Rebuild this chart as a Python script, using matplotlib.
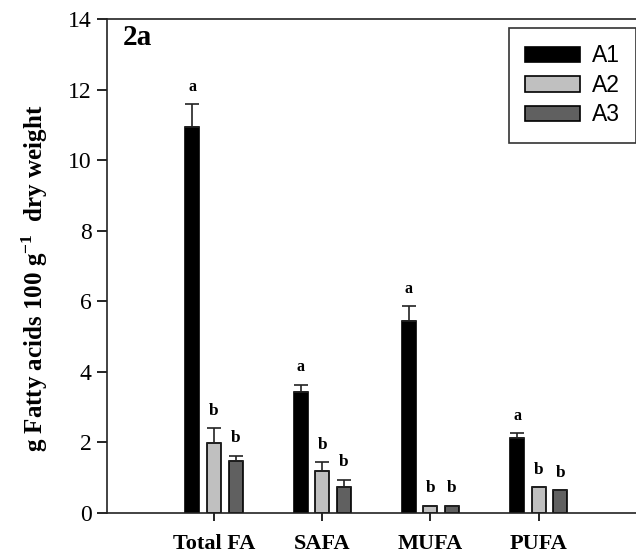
import numpy as np
import matplotlib
matplotlib.use('Agg')
import matplotlib.pyplot as plt

plt.rcParams['font.family'] = ['Liberation Serif', 'DejaVu Serif']
plt.rcParams['mathtext.fontset'] = 'custom'
plt.rcParams['mathtext.rm'] = 'Liberation Serif:bold'
plt.rcParams['mathtext.bf'] = 'Liberation Serif:bold'

groups = ['Total FA', 'SAFA', 'MUFA', 'PUFA']
series = ['A1', 'A2', 'A3']
a1 = [10.95, 3.43, 5.45, 2.13]
a2 = [1.97, 1.18, 0.19, 0.72]
a3 = [1.47, 0.74, 0.20, 0.63]
a1_err = [0.63, 0.19, 0.40, 0.12]
a2_err = [0.42, 0.25, 0.0, 0.0]
a3_err = [0.15, 0.19, 0.0, 0.0]
letters_a1 = ['a', 'a', 'a', 'a']
letters_a2 = ['b', 'b', 'b', 'b']
letters_a3 = ['b', 'b', 'b', 'b']
colors = ['#000000', '#c0c0c0', '#606060']

fig = plt.figure(figsize=(6.36, 5.58), dpi=100)
ax = fig.add_axes([107 / 636, 45.3 / 558, 1 - 107 / 636, 493.7 / 558])

x = np.arange(1, len(groups) + 1)
width = 0.13
offsets = [-0.2, 0.0, 0.2]

for vals, errs, lets, off, col, name in zip([a1, a2, a3], [a1_err, a2_err, a3_err],
                                            [letters_a1, letters_a2, letters_a3],
                                            offsets, colors, series):
    xs = x + off
    ax.bar(xs, vals, width, color=col, edgecolor='black', linewidth=1.2, label=name, zorder=2)
    ax.errorbar(xs, vals, yerr=[np.zeros(len(vals)), errs], fmt='none', ecolor='#222222',
                elinewidth=1.2, capsize=5.3, capthick=1.2, zorder=3)
    for xi, v, e, t in zip(xs, vals, errs, lets):
        ax.annotate(t, (xi, v + e), xytext=(0, 7), textcoords='offset points',
                    ha='center', va='bottom', fontsize=12.5 if t == 'b' else 11.5,
                    fontweight='bold')

ax.set_xlim(0.01, 4.9)
ax.set_ylim(0, 14)
ax.set_yticks(np.arange(0, 15, 2))
ax.set_xticks(x)
ax.set_xticklabels(groups, fontsize=16, fontweight='bold')
ax.tick_params(axis='y', direction='out', length=7, width=1.2, labelsize=17, pad=4)
ax.tick_params(axis='x', direction='out', length=6, width=1.2, pad=9)
for s in ['left', 'bottom', 'top']:
    ax.spines[s].set_linewidth(1.2)
    ax.spines[s].set_color('#222222')
ax.spines['right'].set_visible(False)

ax.text(0.03, 0.962, '2a', transform=ax.transAxes, fontsize=21, fontweight='bold',
        ha='left', va='center')

fig.text(35 / 636, 1 - 278 / 558, r'g Fatty acids 100 g$^{\mathbf{-1}}$  dry weight',
         rotation=90, ha='center', va='center', fontsize=18, fontweight='bold')

leg = ax.legend(loc='upper right', bbox_to_anchor=(1.0, 1 - 28 / 558),
                bbox_transform=fig.transFigure, borderaxespad=0, fancybox=False,
                framealpha=1, edgecolor='#333333', handlelength=2.4, handleheight=0.65,
                handletextpad=0.5, labelspacing=0.28, borderpad=0.72,
                prop={'family': 'Liberation Sans', 'size': 16.5})
leg.get_frame().set_linewidth(1.2)

fig.savefig('out.png', dpi=100)
